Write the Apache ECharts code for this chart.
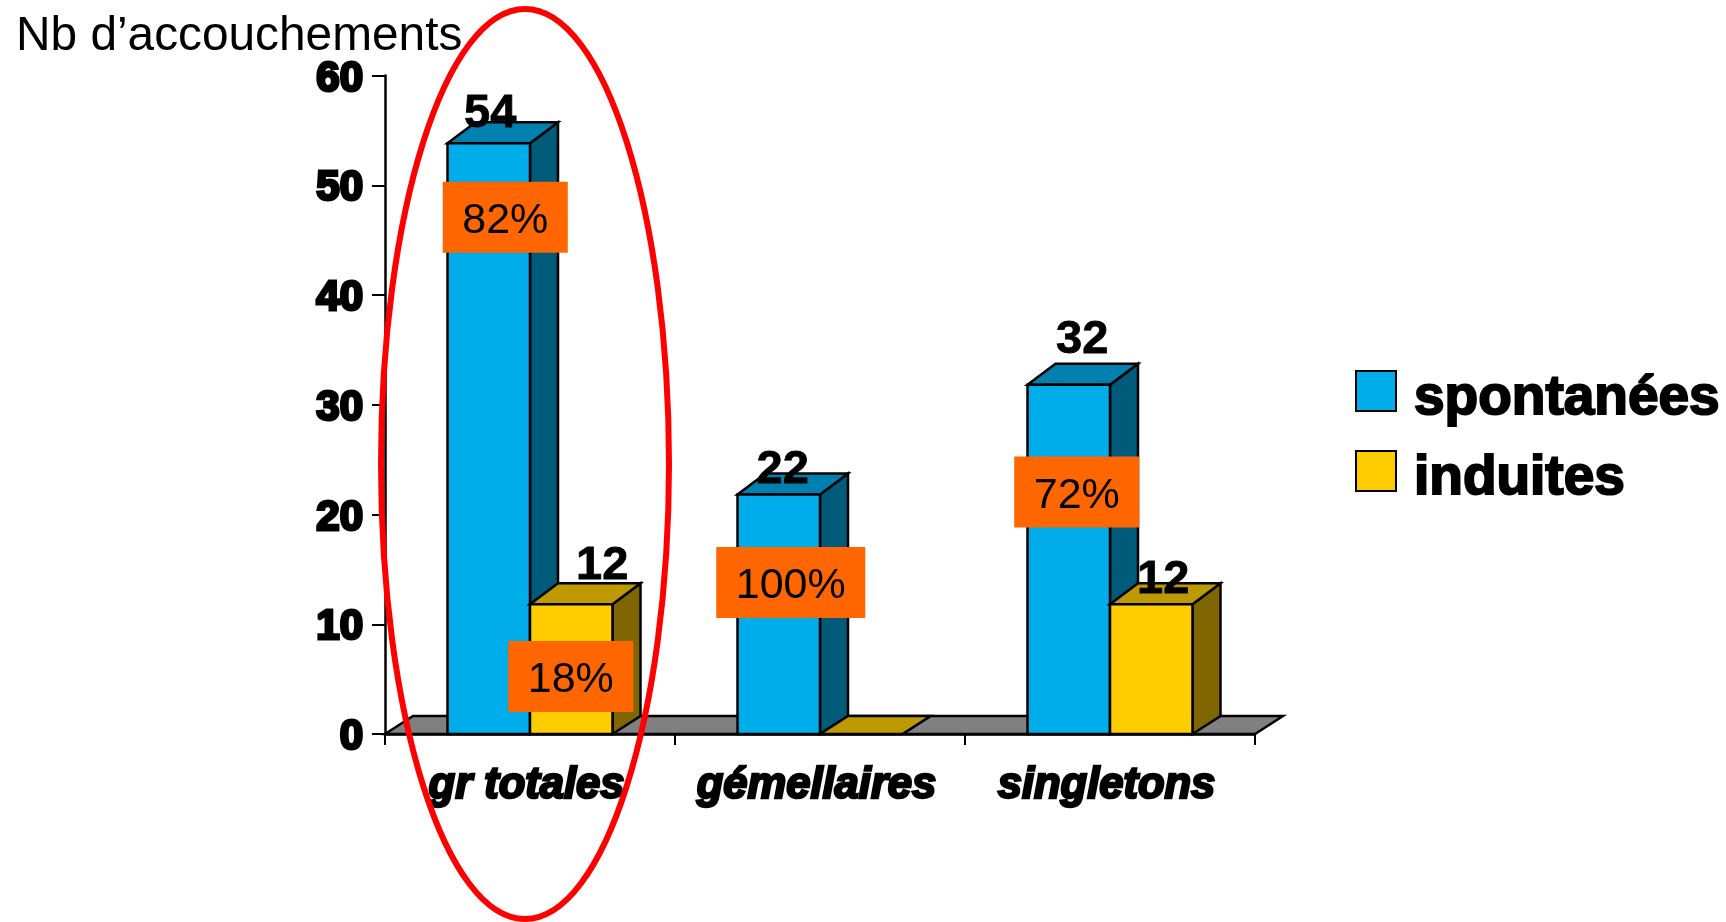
<!DOCTYPE html>
<html lang="fr">
<head>
<meta charset="utf-8">
<title>Nb d’accouchements</title>
<style>
html, body { margin: 0; padding: 0; background: #fff; }
#chart { width: 1726px; height: 922px; }
</style>
<script src="https://cdn.jsdelivr.net/npm/echarts@6/dist/echarts.min.js"></script>
</head>
<body>
<div id="chart"></div>
<script>
// Deliveries per group, split by onset type
const categories = ['gr totales', 'gémellaires', 'singletons'];
const spontanees = [54, 22, 32];
const induites = [12, 0, 12];
const partSpontanees = ['82%', '100%', '72%'];
const partInduites = ['18%', '', ''];
const yTicks = { min: 0, max: 60, interval: 10 };

// Hand-placed annotations: pixel nudges from the top centre of each bar's front face
const valueNudge = [[[1.5, -29], [4, -25], [13.5, -45]], [[31, -38.7], [0, 0], [12, -24.6]]];
const shareNudge = [[[16.5, 73.8], [12, 87.9], [8, 107.3]], [[-0.5, 72.3], [0, 0], [0, 0]]];

const FONT = '"Liberation Sans", Arial, sans-serif';
const BAR_RATIO = 82.5 / 290;
const DEPTH_X = 28;
const DEPTH_TOP = 21;
const DEPTH_BASE = 18;
const FRONT_DROP = 2;        // the box's front edge sits just under the tick level
const SHARE_BOX_HEIGHT = 71;
const EDGE = { stroke: '#000', lineWidth: 2.5, lineJoin: 'miter' };

const palettes = [
  { front: '#00ADEB', top: '#0080B0', side: '#005A7A' },
  { front: '#FFCC00', top: '#BF9900', side: '#806600' }
];

function poly(points, fill) {
  return { type: 'polygon', shape: { points }, style: Object.assign({ fill }, EDGE) };
}

function barFrame(api, seriesPos) {
  const top = api.coord([api.value(0), api.value(1)]);
  const base = api.coord([api.value(0), 0]);
  const w = api.size([1, 0])[0] * BAR_RATIO;
  const x0 = top[0] + (seriesPos === 0 ? -w : 0);
  const yTop = api.value(1) > 0 ? top[1] + FRONT_DROP : top[1];
  return { x0, x1: x0 + w, yTop, yBase: base[1], w };
}

function renderBar(seriesPos) {
  return function (params, api) {
    const f = barFrame(api, seriesPos);
    const c = palettes[seriesPos];
    const d = f.yBase - f.yTop > 0 ? DEPTH_TOP : DEPTH_BASE;
    const children = [
      poly([[f.x1, f.yBase], [f.x1 + DEPTH_X, f.yBase - DEPTH_BASE], [f.x1 + DEPTH_X, f.yTop - d], [f.x1, f.yTop]], c.side),
      poly([[f.x0, f.yTop], [f.x0 + DEPTH_X, f.yTop - d], [f.x1 + DEPTH_X, f.yTop - d], [f.x1, f.yTop]], c.top)
    ];
    if (f.yBase - f.yTop > 0) {
      children.push(poly([[f.x0, f.yBase], [f.x0, f.yTop], [f.x1, f.yTop], [f.x1, f.yBase]], c.front));
    }
    return { type: 'group', children };
  };
}

function renderNotes(seriesPos, shares) {
  return function (params, api) {
    const i = api.value(0);
    const v = api.value(1);
    const f = barFrame(api, seriesPos);
    const cx = (f.x0 + f.x1) / 2;
    const children = [];
    if (v > 0) {
      const n = valueNudge[seriesPos][i];
      children.push({
        type: 'text',
        x: cx + n[0], y: f.yTop + n[1],
        style: {
          text: String(v), align: 'center', verticalAlign: 'middle',
          font: 'bold 47px ' + FONT, fill: '#000', stroke: '#000', lineWidth: 0.8
        }
      });
    }
    if (shares[i]) {
      const n = shareNudge[seriesPos][i];
      children.push({
        type: 'text',
        x: cx + n[0], y: f.yTop + n[1] - SHARE_BOX_HEIGHT / 2,
        style: {
          text: shares[i], align: 'center', verticalAlign: 'top',
          font: '43px ' + FONT, fill: '#000', lineHeight: 45,
          backgroundColor: '#FF6600', padding: [17, 19.5, 9, 19.5]
        }
      });
    }
    return { type: 'group', children };
  };
}

function renderFloor(params, api) {
  const r = params.coordSys;
  const yb = r.y + r.height;
  return poly([
    [r.x, yb], [r.x + DEPTH_X, yb - DEPTH_BASE],
    [r.x + r.width + DEPTH_X, yb - DEPTH_BASE], [r.x + r.width, yb]
  ], '#808080');
}

const toPoints = arr => arr.map((v, i) => [i, v]);

const chart = echarts.init(document.getElementById('chart'), null, { renderer: 'canvas' });
chart.setOption({
  animation: false,
  backgroundColor: '#fff',
  title: {
    text: 'Nb d’accouchements',
    left: 11, top: 8,
    textStyle: { fontFamily: FONT, fontWeight: 'normal', fontSize: 47.8, color: '#000' }
  },
  legend: {
    orient: 'vertical',
    left: 1350, top: 365,
    icon: 'rect',
    itemWidth: 40, itemHeight: 40, itemGap: 23,
    data: ['spontanées', 'induites'],
    itemStyle: { borderColor: '#000', borderWidth: 2 },
    formatter: name => '{t|' + name + '}',
    textStyle: {
      rich: {
        t: {
          fontFamily: FONT, fontWeight: 'bold', fontSize: 55, color: '#000',
          textBorderColor: '#000', textBorderWidth: 2,
          padding: [15, 0, 0, 13]
        }
      }
    }
  },
  grid: { left: 385, right: 471, top: 75.5, bottom: 188, containLabel: false },
  xAxis: {
    type: 'category',
    data: categories,
    axisLine: { show: true, lineStyle: { color: '#000', width: 2.5 } },
    axisTick: { show: true, interval: 0, length: 11, lineStyle: { color: '#000', width: 2 } },
    axisLabel: {
      interval: 0, hideOverlap: false,
      margin: 30,
      formatter: '{c|{value}}',
      rich: {
        c: {
          fontFamily: FONT, fontWeight: 'bold', fontStyle: 'italic', fontSize: 43.5,
          color: '#000', textBorderColor: '#000', textBorderWidth: 2.5,
          padding: [0, 7, 0, 0]
        }
      }
    }
  },
  yAxis: {
    type: 'value',
    min: yTicks.min, max: yTicks.max, interval: yTicks.interval,
    splitLine: { show: false },
    axisLine: { show: true, lineStyle: { color: '#000', width: 2.5 } },
    axisTick: { show: true, length: 13, lineStyle: { color: '#000', width: 2 } },
    axisLabel: {
      margin: 22,
      formatter: '{v|{value}}',
      rich: {
        v: {
          fontFamily: FONT, fontWeight: 'bold', fontSize: 42, color: '#000',
          textBorderColor: '#000', textBorderWidth: 3,
          padding: [7, 0, 0, 0]
        }
      }
    }
  },
  series: [
    { type: 'custom', name: 'sol', z: 1, data: [[0, 0]], encode: { x: 0, y: 1 }, renderItem: renderFloor, silent: true },
    { type: 'custom', name: 'spontanées', z: 2, data: toPoints(spontanees), encode: { x: 0, y: 1 }, itemStyle: { color: palettes[0].front }, renderItem: renderBar(0) },
    { type: 'custom', name: 'induites', z: 3, data: toPoints(induites), encode: { x: 0, y: 1 }, itemStyle: { color: palettes[1].front }, renderItem: renderBar(1) },
    { type: 'custom', name: 'notes-spontanées', z: 5, data: toPoints(spontanees), encode: { x: 0, y: 1 }, renderItem: renderNotes(0, partSpontanees), silent: true },
    { type: 'custom', name: 'notes-induites', z: 5, data: toPoints(induites), encode: { x: 0, y: 1 }, renderItem: renderNotes(1, partInduites), silent: true }
  ],
  graphic: [{
    type: 'ellipse',
    z: 100,
    silent: true,
    shape: { cx: 525, cy: 464, rx: 144, ry: 455 },
    style: { fill: 'none', stroke: '#FF0000', lineWidth: 6 }
  }]
});
</script>
</body>
</html>
